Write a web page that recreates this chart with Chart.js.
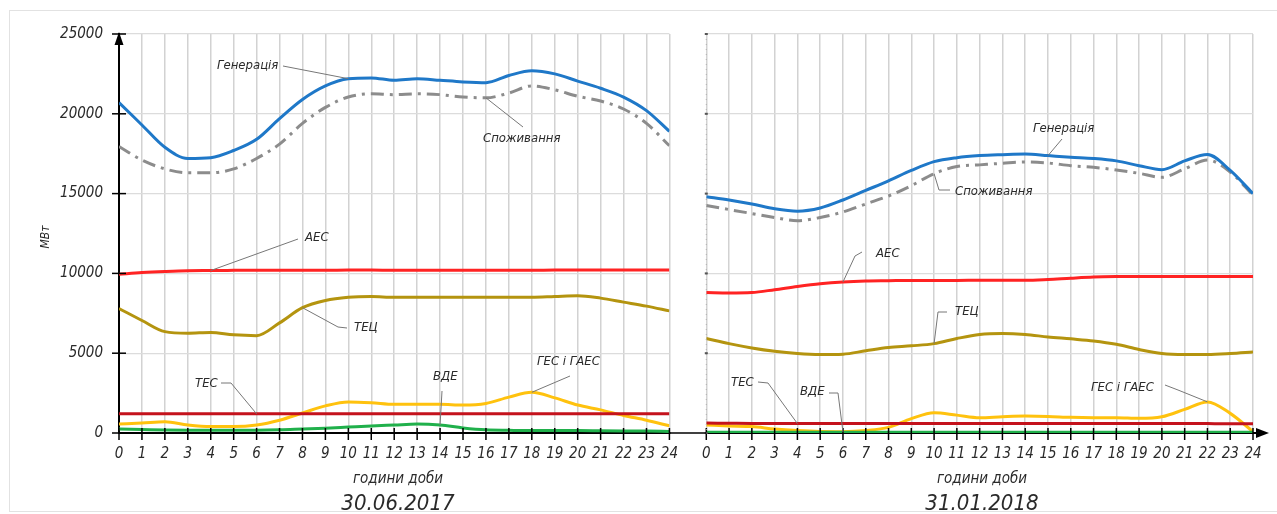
<!DOCTYPE html>
<html>
<head>
<meta charset="utf-8">
<script src="https://cdn.jsdelivr.net/npm/chart.js@4.4.1/dist/chart.umd.min.js"></script>
<style>
  body { margin: 0; background: #fff; width: 1277px; height: 514px; overflow: hidden; position: relative; }
  .frame { position: absolute; left: 9px; top: 10px; width: 1275px; height: 500px; border: 1px solid #e2e2e2; }
  canvas { position: absolute; top: 0; }
  #left { left: 0; }
  #right { left: 690px; }
</style>
</head>
<body>
<div class="frame"></div>
<canvas id="left" width="690" height="514"></canvas>
<canvas id="right" width="587" height="514"></canvas>
<script>
'use strict'

const hours = [0, 1, 2, 3, 4, 5, 6, 7, 8, 9, 10, 11, 12, 13, 14, 15, 16, 17, 18, 19, 20, 21, 22, 23, 24]
const yTicks = [0, 5000, 10000, 15000, 20000, 25000]

// 30.06.2017
const gen17 = [20700, 19300, 17900, 17200, 17250, 17700, 18400, 19700, 20900, 21750, 22200, 22250, 22100, 22200, 22100, 22000, 21950, 22400, 22700, 22500, 22050, 21600, 21050, 20200, 18900]
const cons17 = [17950, 17100, 16550, 16300, 16300, 16550, 17200, 18100, 19400, 20400, 21050, 21250, 21200, 21250, 21200, 21050, 21000, 21300, 21750, 21500, 21100, 20800, 20300, 19400, 18000]
const aes17 = [9950, 10050, 10120, 10170, 10180, 10190, 10200, 10200, 10200, 10200, 10210, 10210, 10200, 10200, 10200, 10190, 10190, 10200, 10200, 10210, 10210, 10210, 10210, 10210, 10210]
const tec17 = [7800, 7050, 6350, 6250, 6300, 6150, 6100, 6900, 7850, 8300, 8500, 8550, 8500, 8500, 8500, 8500, 8500, 8500, 8500, 8550, 8600, 8450, 8200, 7950, 7650]
const tes17 = [1200, 1200, 1200, 1200, 1200, 1200, 1200, 1200, 1200, 1200, 1200, 1200, 1200, 1200, 1200, 1200, 1200, 1200, 1200, 1200, 1200, 1200, 1200, 1200, 1200]
const hydro17 = [560, 620, 700, 500, 400, 400, 500, 800, 1250, 1700, 1950, 1900, 1800, 1800, 1800, 1750, 1850, 2250, 2550, 2200, 1750, 1450, 1100, 800, 450]
const vde17 = [250, 220, 190, 180, 180, 180, 180, 200, 250, 300, 370, 440, 500, 560, 500, 320, 200, 170, 150, 150, 150, 140, 130, 120, 100]

// 31.01.2018
const gen18 = [14800, 14600, 14350, 14050, 13900, 14100, 14600, 15200, 15800, 16450, 17000, 17250, 17380, 17440, 17480, 17380, 17280, 17200, 17050, 16750, 16500, 17050, 17450, 16450, 15000]
const cons18 = [14250, 14000, 13750, 13500, 13300, 13500, 13850, 14350, 14850, 15500, 16250, 16700, 16800, 16900, 16980, 16920, 16750, 16650, 16480, 16270, 16020, 16550, 17100, 16350, 14900]
const aes18 = [8800, 8770, 8800, 8980, 9180, 9350, 9460, 9520, 9540, 9560, 9560, 9560, 9570, 9570, 9570, 9620, 9700, 9770, 9800, 9810, 9810, 9810, 9810, 9810, 9810]
const tec18 = [5920, 5600, 5330, 5120, 4980, 4920, 4940, 5150, 5350, 5460, 5600, 5920, 6170, 6230, 6170, 6020, 5900, 5770, 5560, 5230, 4980, 4920, 4920, 4980, 5080]
const tes18 = [620, 610, 600, 600, 590, 590, 590, 590, 590, 590, 590, 590, 590, 590, 590, 590, 590, 590, 590, 590, 600, 600, 590, 580, 580]
const hydro18 = [500, 440, 400, 250, 150, 90, 80, 150, 350, 900, 1270, 1120, 960, 1020, 1060, 1040, 980, 960, 960, 920, 1020, 1480, 1950, 1230, 90]
const vde18 = [50, 50, 50, 50, 50, 50, 50, 50, 50, 50, 50, 50, 50, 50, 50, 50, 50, 50, 50, 50, 50, 50, 50, 50, 50]

const FONT = "'DejaVu Sans Condensed', 'DejaVu Sans', sans-serif"
const TEXT = '#2a2a2a'

const pts = (vals) => hours.map((h, i) => ({ x: h, y: vals[i] }))

function line(label, vals, color, extra) {
  return Object.assign({
    label: label,
    data: pts(vals),
    borderColor: color,
    borderWidth: 3,
    pointRadius: 0,
    fill: false,
    cubicInterpolationMode: 'monotone',
  }, extra || {})
}

function datasets(s) {
  return [
    line('Генерація', s.gen, '#1f78c8'),
    line('Споживання', s.cons, '#8c8c8c', { borderDash: [13, 6, 3, 6] }),
    line('АЕС', s.aes, '#ff2323'),
    line('ТЕЦ', s.tec, '#b4940f'),
    line('ТЕС', s.tes, '#c4121c'),
    line('ВДЕ', s.vde, '#20b04b'),
    line('ГЕС і ГАЕС', s.hydro, '#ffc20e'),
  ]
}

// labels with leader lines; the last point of each leader sits on the curve
const notes17 = [
  { text: 'Генерація', x: 217, y: 66, path: [[283, 66]], ds: 0, h: 10 },
  { text: 'Споживання', x: 483, y: 139, path: [[523, 127]], ds: 1, h: 16 },
  { text: 'АЕС', x: 305, y: 238, path: [[298, 239]], ds: 2, h: 4 },
  { text: 'ТЕЦ', x: 354, y: 328, path: [[347, 328], [338, 327]], ds: 3, h: 8 },
  { text: 'ТЕС', x: 195, y: 384, path: [[221, 383], [231, 383]], ds: 4, h: 6 },
  { text: 'ВДЕ', x: 433, y: 377, path: [[442, 391]], ds: 5, h: 14 },
  { text: 'ГЕС і ГАЕС', x: 537, y: 362, path: [[570, 376]], ds: 6, h: 18 },
]
const notes18 = [
  { text: 'Генерація', x: 1033, y: 129, path: [[1062, 139]], ds: 0, h: 15 },
  { text: 'Споживання', x: 955, y: 192, path: [[950, 190], [939, 190]], ds: 1, h: 10 },
  { text: 'АЕС', x: 876, y: 254, path: [[862, 252], [855, 256]], ds: 2, h: 6 },
  { text: 'ТЕЦ', x: 955, y: 312, path: [[947, 312], [938, 312]], ds: 3, h: 10 },
  { text: 'ТЕС', x: 731, y: 383, path: [[758, 382], [768, 383]], ds: 4, h: 4 },
  { text: 'ВДЕ', x: 800, y: 392, path: [[829, 393], [838, 393]], ds: 5, h: 6 },
  { text: 'ГЕС і ГАЕС', x: 1091, y: 388, path: [[1165, 385], [1178, 390]], ds: 6, h: 22 },
]

const extras = {
  id: 'extras',
  afterDraw(chart, args, o) {
    const ctx = chart.ctx
    const xs = chart.scales.x
    const ys = chart.scales.y
    const y0 = ys.getPixelForValue(0)
    ctx.save()

    // tick marks crossing the axes
    ctx.strokeStyle = '#000'
    ctx.lineWidth = 1.5
    hours.forEach((h) => {
      const px = xs.getPixelForValue(h)
      ctx.beginPath()
      ctx.moveTo(px, y0 - 5)
      ctx.lineTo(px, y0 + 7)
      ctx.stroke()
    })
    if (o.side === 'left') {
      yTicks.forEach((v) => {
        const py = ys.getPixelForValue(v)
        ctx.beginPath()
        ctx.moveTo(xs.left - 7, py)
        ctx.lineTo(xs.left + 7, py)
        ctx.stroke()
      })
      // arrow on y axis
      ctx.fillStyle = '#000'
      ctx.beginPath()
      ctx.moveTo(xs.left, ys.top - 2)
      ctx.lineTo(xs.left - 4.5, ys.top + 11)
      ctx.lineTo(xs.left + 4.5, ys.top + 11)
      ctx.closePath()
      ctx.fill()
      // axis continues towards the second panel
      ctx.lineWidth = 1.5
      ctx.beginPath()
      ctx.moveTo(xs.right, y0)
      ctx.lineTo(chart.width, y0)
      ctx.stroke()
      // y title
      ctx.fillStyle = TEXT
      ctx.font = 'italic 12px ' + FONT
      ctx.translate(46, 237)
      ctx.rotate(-Math.PI / 2)
      ctx.textAlign = 'center'
      ctx.textBaseline = 'middle'
      ctx.fillText('МВт', 0, 0)
      ctx.setTransform(1, 0, 0, 1, 0, 0)
    } else {
      // dotted y axis of the second panel
      ctx.strokeStyle = '#b0b0b0'
      ctx.lineWidth = 1
      ctx.setLineDash([1, 4])
      ctx.beginPath()
      ctx.moveTo(xs.left, ys.top)
      ctx.lineTo(xs.left, y0)
      ctx.stroke()
      ctx.setLineDash([])
      ctx.fillStyle = '#555'
      yTicks.forEach((v) => {
        const py = ys.getPixelForValue(v)
        ctx.fillRect(xs.left - 1.5, py - 1, 3, 2)
      })
      ctx.strokeStyle = '#000'
      ctx.lineWidth = 1.5
      ctx.beginPath()
      ctx.moveTo(0, y0)
      ctx.lineTo(xs.left, y0)
      ctx.stroke()
      ctx.lineWidth = 2
      ctx.beginPath()
      ctx.moveTo(xs.right, y0)
      ctx.lineTo(xs.right + 8, y0)
      ctx.stroke()
      // arrow on x axis
      ctx.fillStyle = '#000'
      ctx.beginPath()
      ctx.moveTo(xs.right + 16, y0)
      ctx.lineTo(xs.right + 3, y0 - 5)
      ctx.lineTo(xs.right + 3, y0 + 5)
      ctx.closePath()
      ctx.fill()
    }

    // annotations
    const off = o.offset
    ctx.font = 'italic 13px ' + FONT
    ctx.textAlign = 'left'
    ctx.textBaseline = 'middle'
    o.notes.forEach((n) => {
      const val = chart.data.datasets[n.ds].data[n.h].y
      const ax = xs.getPixelForValue(n.h)
      const ay = ys.getPixelForValue(val)
      ctx.strokeStyle = '#777'
      ctx.lineWidth = 1
      ctx.beginPath()
      n.path.forEach((p, i) => {
        if (i === 0) ctx.moveTo(p[0] - off, p[1])
        else ctx.lineTo(p[0] - off, p[1])
      })
      ctx.lineTo(ax, ay)
      ctx.stroke()
      ctx.fillStyle = TEXT
      ctx.fillText(n.text, n.x - off, n.y)
    })

    // axis caption and date
    ctx.textAlign = 'center'
    ctx.textBaseline = 'alphabetic'
    ctx.fillStyle = TEXT
    ctx.font = 'italic 15px ' + FONT
    ctx.fillText('години доби', o.cx - off, 483)
    ctx.font = 'italic 22px ' + FONT
    ctx.fillText(o.date, o.cx - off, 510)
    ctx.restore()
  },
}

function makeChart(id, s, side) {
  const left = side === 'left'
  return new Chart(document.getElementById(id), {
    type: 'line',
    data: { datasets: datasets(s) },
    options: {
      responsive: false,
      animation: false,
      layout: { padding: { top: 34, right: left ? 11 : 24, bottom: 41, left: 0 } },
      scales: {
        x: {
          type: 'linear',
          min: 0,
          max: 24,
          afterFit: (sc) => { sc.height = 40 },
          ticks: {
            stepSize: 1,
            autoSkip: false,
            maxRotation: 0,
            padding: 12,
            color: TEXT,
            font: { family: FONT, size: 15, style: 'italic' },
          },
          grid: { color: '#d2d2d2', lineWidth: 1.5, drawTicks: false },
          border: { color: '#000', width: 2 },
        },
        y: {
          min: 0,
          max: 25000,
          afterFit: (sc) => { sc.width = left ? 119 : 13 },
          afterBuildTicks: (sc) => { sc.ticks = yTicks.map((v) => ({ value: v })) },
          ticks: {
            display: left,
            padding: 16,
            color: TEXT,
            font: { family: FONT, size: 15, style: 'italic' },
            callback: (v) => String(v),
          },
          grid: { color: '#dcdcdc', lineWidth: 1.3, drawTicks: false },
          border: left ? { color: '#000', width: 2 } : { display: false },
        },
      },
      plugins: {
        legend: { display: false },
        tooltip: { enabled: false },
        extras: left
          ? { side: 'left', notes: notes17, offset: 0, cx: 398, date: '30.06.2017' }
          : { side: 'right', notes: notes18, offset: 690, cx: 982, date: '31.01.2018' },
      },
    },
    plugins: [extras],
  })
}

makeChart('left', { gen: gen17, cons: cons17, aes: aes17, tec: tec17, tes: tes17, vde: vde17, hydro: hydro17 }, 'left')
makeChart('right', { gen: gen18, cons: cons18, aes: aes18, tec: tec18, tes: tes18, vde: vde18, hydro: hydro18 }, 'right')
</script>
</body>
</html>
